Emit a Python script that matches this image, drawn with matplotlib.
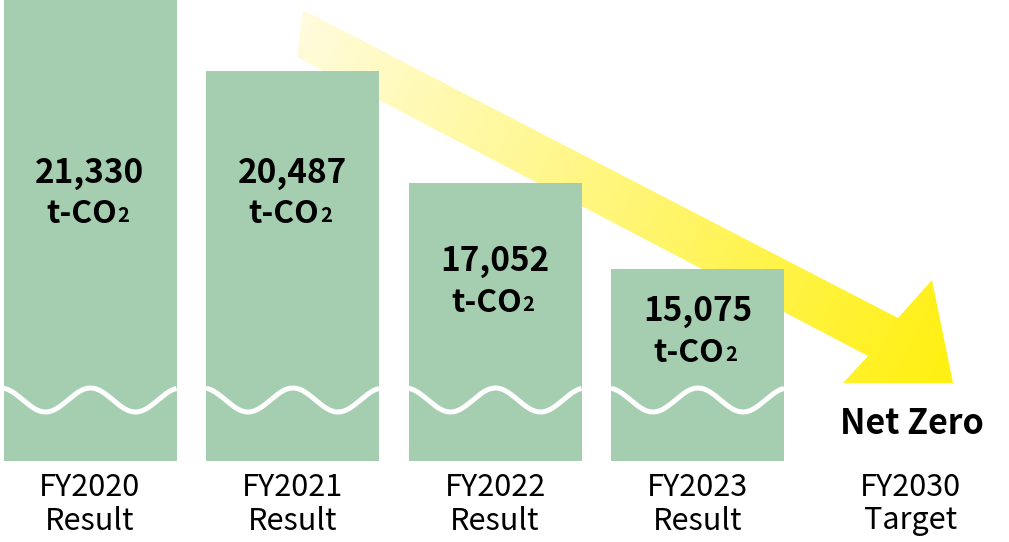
import numpy as np
import matplotlib.pyplot as plt
from matplotlib.patches import Polygon

plt.rcParams['font.family'] = ['Noto Sans CJK JP', 'DejaVu Sans']

# data
years = ['FY2020', 'FY2021', 'FY2022', 'FY2023', 'FY2030']
kinds = ['Result', 'Result', 'Result', 'Result', 'Target']
emissions = ['21,330', '20,487', '17,052', '15,075']  # t-CO2
# drawn bar heights (the chart has a broken axis, so they are not to scale)
bar_heights = [461, 390, 278, 192]
target_label = 'Net Zero'

W, H = 1009, 542
green = '#a5ceb1'
# vertical centre of each value label block (same units as the bars)
label_y = [268, 268, 179, 129]

fig = plt.figure(figsize=(W / 100, H / 100), dpi=100)

# background layer in pixel units, just for the yellow arrow
bg = fig.add_axes([0, 0, 1, 1])
bg.set_xlim(0, W)
bg.set_ylim(H, 0)
bg.axis('off')

arrow_pts = [(303, 10), (898, 318), (932, 280), (953, 383),
             (843, 383), (868, 356), (297, 57)]
yy, xx = np.mgrid[0:H, 0:W]
d = np.array([640.0, 330.0])
t = ((xx - 300) * d[0] + (yy - 33) * d[1]) / (d @ d)
t = np.clip(t, 0, 1)
c0 = np.array([255, 252, 220]) / 255
c1 = np.array([255, 240, 20]) / 255
img = c0 + (c1 - c0) * t[..., None]
im = bg.imshow(img, extent=(0, W, H, 0), aspect='auto', interpolation='bilinear')
poly = Polygon(arrow_pts, closed=True, facecolor='none', edgecolor='none')
bg.add_patch(poly)
im.set_clip_path(poly)

# main axes: bars sit on y=0, one unit per category
step = 202.5
ax = fig.add_axes([0, 81 / H, 1, 461 / H])
ax.patch.set_alpha(0)
ax.set_xlim(-90 / step, (W - 90) / step)
ax.set_ylim(0, 461)
ax.axis('off')

x = np.arange(len(bar_heights))
width = 173 / step
ax.bar(x, bar_heights, width=width, color=green, zorder=2)

# white wave = axis break
for i in x:
    xs = np.linspace(i - width / 2, i + width / 2, 300)
    px = (xs - (i - width / 2)) * step
    ax.plot(xs, 61 - 12 * np.cos(2 * np.pi * (px - 42) / 90),
            color='white', lw=3.6, zorder=3, solid_capstyle='butt')

# value labels inside the bars
for i, (yc, val) in enumerate(zip(label_y, emissions)):
    ax.text(i, yc + 20, val, ha='center', va='center', fontsize=24,
            fontweight='bold', zorder=4)
    tco = ax.text(i + 27 / step, yc - 21, 't-CO', ha='right', va='center',
                  fontsize=23, fontweight='bold', zorder=4)
    ax.annotate('2', xy=(1, 0), xycoords=tco, xytext=(0.5, 3),
                textcoords='offset points', ha='left', va='bottom',
                fontsize=14.5, fontweight='bold', zorder=4)

ax.text(4.06, 37, target_label, ha='center', va='center', fontsize=24.5,
        fontweight='bold')

# category labels under the bars
for i, (yr, kd) in enumerate(zip(years, kinds)):
    xi = i if i < 4 else 4.05
    ax.text(xi, -26, yr, ha='center', va='center', fontsize=22, clip_on=False)
    ax.text(xi, -60, kd, ha='center', va='center', fontsize=22, clip_on=False)

fig.savefig('out.png', dpi=100)
